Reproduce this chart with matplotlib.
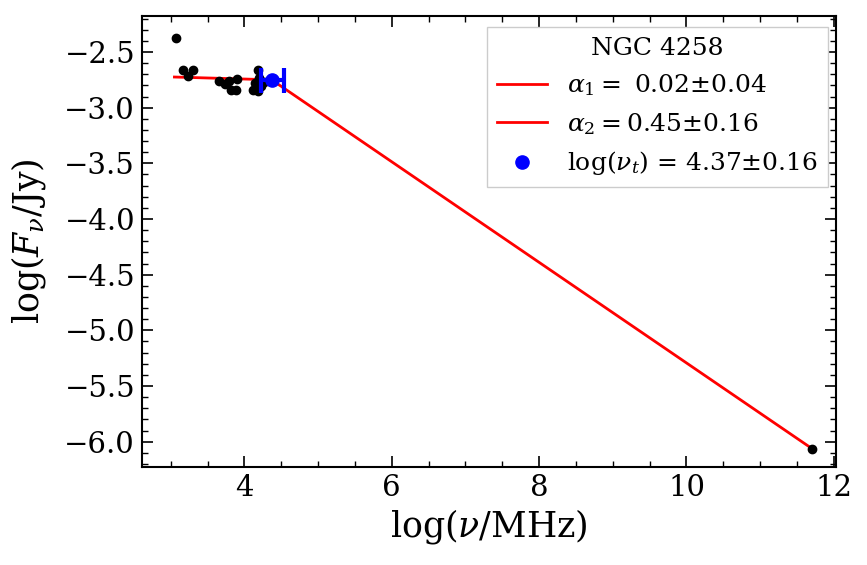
import matplotlib
matplotlib.use("Agg")
import matplotlib.pyplot as plt
from matplotlib.ticker import MultipleLocator
from matplotlib.lines import Line2D

plt.rcParams['font.family'] = 'DejaVu Serif'
plt.rcParams['mathtext.fontset'] = 'dejavuserif'

# observed data
log_nu = [3.07, 3.16, 3.30, 3.23, 3.65, 3.73, 3.79, 3.82, 3.89, 3.90,
          4.12, 4.14, 4.18, 4.19, 4.20, 4.23, 4.27, 11.70]
log_F = [-2.375, -2.66, -2.66, -2.72, -2.76, -2.79, -2.76, -2.84, -2.84, -2.74,
         -2.84, -2.78, -2.66, -2.85, -2.73, -2.81, -2.77, -6.065]

# broken power-law fit
fit_x1 = [3.05, 4.37]
fit_y1 = [-2.725, -2.75]
fit_x2 = [4.37, 11.70]
fit_y2 = [-2.75, -6.06]

# turnover
nu_t = 4.38
nu_t_err = 0.16
F_t = -2.75

fig = plt.figure(figsize=(8.67, 5.65), dpi=100)
ax = fig.add_axes([142/867, 1-467/565, (836-142)/867, (467-16)/565])

ax.plot(log_nu, log_F, 'o', color='black', ms=6, zorder=3)
ax.plot(fit_x1, fit_y1, '-', color='red', lw=2, label=r'$\alpha_1 =$ 0.02$\pm$0.04', zorder=2)
ax.plot(fit_x2, fit_y2, '-', color='red', lw=2, label=r'$\alpha_2 = 0.45{\pm}0.16$', zorder=2)
ax.errorbar([nu_t], [F_t], xerr=[nu_t_err], fmt='o', color='blue', ms=9.5,
            elinewidth=3, capsize=9, capthick=3, zorder=4,
            label=r'$\log(\nu_t)$ = 4.37$\pm$0.16')

ax.set_xlim(2.61, 12.03)
ax.set_ylim(-6.227, -2.177)
ax.set_xlabel(r'$\log(\nu/\mathrm{MHz})$', fontsize=25)
ax.set_ylabel(r'$\log(F_\nu/\mathrm{Jy})$', fontsize=25)
ax.yaxis.set_label_coords(-0.135, 0.5)

ax.xaxis.set_major_locator(MultipleLocator(2))
ax.xaxis.set_minor_locator(MultipleLocator(0.5))
ax.yaxis.set_major_locator(MultipleLocator(0.5))
ax.yaxis.set_minor_locator(MultipleLocator(0.1))
ax.tick_params(which='both', direction='in', top=True, right=True, labelsize=21)
ax.tick_params(which='major', length=8, width=1.2, pad=5)
ax.tick_params(which='minor', length=4, width=1)
for s in ax.spines.values():
    s.set_linewidth(1.5)

handles, labels = ax.get_legend_handles_labels()
handles[2] = Line2D([], [], marker='o', color='blue', ls='none', ms=9.5)
leg = ax.legend(handles, labels, title='NGC 4258', fontsize=18, title_fontsize=18,
                loc='upper right', bbox_to_anchor=(0.9885, 0.9756), borderaxespad=0,
                fancybox=False, framealpha=1, edgecolor='#cccccc')

fig.savefig('out.png', dpi=100)
